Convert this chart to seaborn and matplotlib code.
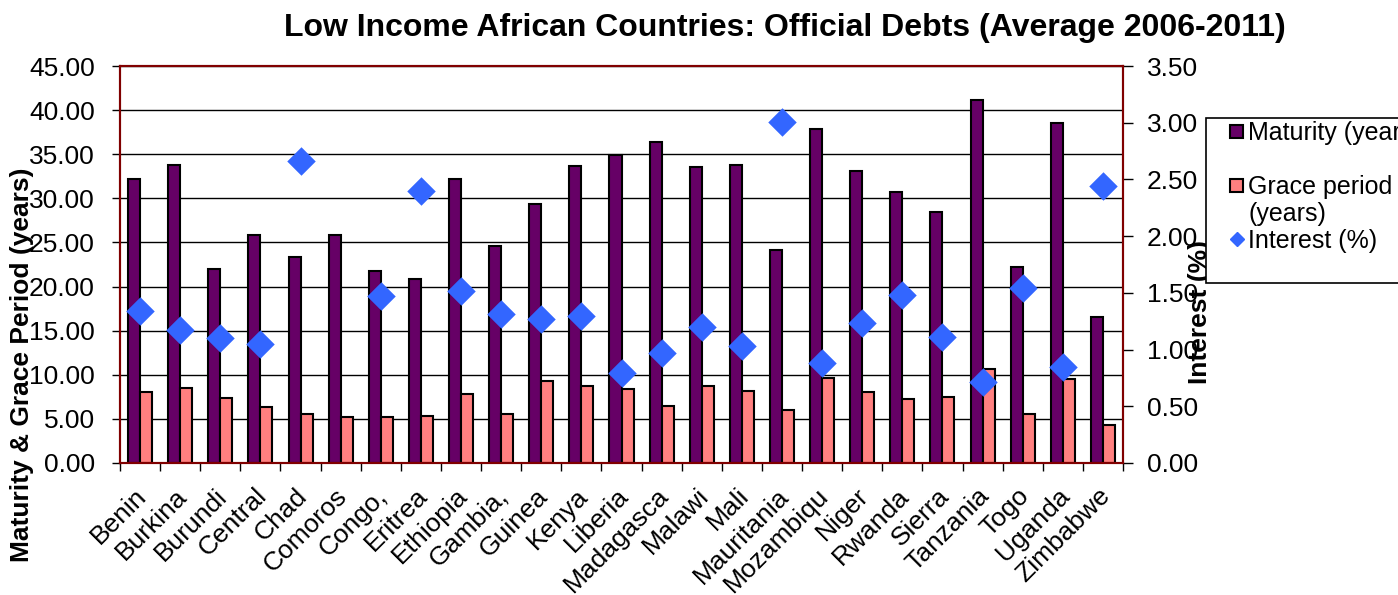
import numpy as np
import pandas as pd
import matplotlib
matplotlib.use("Agg")
import matplotlib.pyplot as plt
import matplotlib.patches as mpatches
import matplotlib.transforms as mtransforms
from matplotlib.lines import Line2D
from matplotlib.legend_handler import HandlerPatch
from matplotlib.ticker import FormatStrFormatter, MultipleLocator, FixedLocator
import seaborn as sns

# ---- data -------------------------------------------------------------
countries = ["Benin", "Burkina", "Burundi", "Central", "Chad", "Comoros", "Congo,",
             "Eritrea", "Ethiopia", "Gambia,", "Guinea", "Kenya", "Liberia",
             "Madagasca", "Malawi", "Mali", "Mauritania", "Mozambiqu", "Niger",
             "Rwanda", "Sierra", "Tanzania", "Togo", "Uganda", "Zimbabwe"]
maturity = [32.2, 33.8, 22.0, 25.8, 23.3, 25.8, 21.8, 20.8, 32.2, 24.6, 29.4, 33.7,
            34.9, 36.4, 33.6, 33.8, 24.2, 37.9, 33.1, 30.7, 28.5, 41.2, 22.2, 38.5, 16.5]
grace = [8.0, 8.55, 7.4, 6.3, 5.5, 5.2, 5.2, 5.33, 7.8, 5.5, 9.3, 8.7,
         8.4, 6.5, 8.7, 8.2, 6.0, 9.6, 8.0, 7.2, 7.5, 10.6, 5.5, 9.5, 4.35]
interest = [1.34, 1.17, 1.10, 1.05, 2.66, np.nan, 1.47, 2.40, 1.52, 1.31, 1.27, 1.30,
            0.79, 0.97, 1.20, 1.03, 3.01, 0.88, 1.23, 1.48, 1.11, 0.71, 1.54, 0.85, 2.44]

series_names = ["Maturity (years)", "Grace period (years)"]
title = "Low Income African Countries: Official Debts (Average 2006-2011)"

PURPLE = "#660066"
PINK = "#ff8080"
BLUE = "#3366ff"
FRAME = "#800000"

plt.rcParams["font.family"] = ["Liberation Sans", "DejaVu Sans"]

W, H = 1398, 595
fig = plt.figure(figsize=(W / 100, H / 100), dpi=100)
ax = fig.add_axes([120 / W, 1 - 463 / H, 1003 / W, 397 / H])

bars = pd.DataFrame({
    "Country": countries * 2,
    "Series": [series_names[0]] * len(countries) + [series_names[1]] * len(countries),
    "Value": maturity + grace,
})

sns.barplot(data=bars, x="Country", y="Value", hue="Series", order=countries,
            hue_order=series_names, palette=[PURPLE, PINK], saturation=1,
            width=0.6, gap=0, edgecolor="black", linewidth=1.5, ax=ax,
            legend=False, errorbar=None)

ax.set_ylim(0, 45)
ax.set_xlim(-0.5, len(countries) - 0.5)
ax.yaxis.set_major_locator(MultipleLocator(5))
ax.yaxis.set_major_formatter(FormatStrFormatter("%.2f"))
ax.set_axisbelow(True)
ax.grid(axis="y", color="black", linewidth=1.0)
ax.grid(axis="x", visible=False)
ax.set_xlabel("")
ax.set_ylabel("")

# interest rate on the secondary axis
ax2 = ax.twinx()
pts = pd.DataFrame({"Country": countries, "Interest": interest})
sns.stripplot(data=pts, x="Country", y="Interest", order=countries, jitter=False,
              marker="D", size=14.5, color=BLUE, linewidth=0, ax=ax2, zorder=4)
ax2.set_ylim(0, 3.5)
ax2.set_xlim(-0.5, len(countries) - 0.5)
ax2.yaxis.set_major_locator(MultipleLocator(0.5))
ax2.yaxis.set_major_formatter(FormatStrFormatter("%.2f"))
ax2.set_xlabel("")
ax2.set_ylabel("")

# category axis: labels at centres, ticks at boundaries
ax.set_xticks(range(len(countries)))
ax.set_xticklabels(countries, rotation=45, ha="right", va="top",
                   rotation_mode="anchor", fontsize=19)
ax.xaxis.set_minor_locator(FixedLocator(np.arange(-0.5, len(countries), 1.0)))
ax.tick_params(axis="x", which="major", length=0, pad=15)
ax.tick_params(axis="x", which="minor", length=6, width=1, color="black", direction="out")
ax.tick_params(axis="y", length=6, width=1, color="black", direction="out",
               labelsize=19, pad=12)
ax2.tick_params(axis="y", length=7, width=1, color="black", direction="out",
                labelsize=19, pad=10)

# nudge the slanted country names a little to the left
shift = mtransforms.ScaledTranslation(-4 / 72, 0, fig.dpi_scale_trans)
for lab in ax.get_xticklabels():
    lab.set_transform(lab.get_transform() + shift)

for a in (ax, ax2):
    for s in a.spines.values():
        s.set_color(FRAME)
        s.set_linewidth(1.5)

# titles
fig.text(785 / W, 1 - 28 / H, title, ha="center", va="center",
         fontsize=23, fontweight="bold")
fig.text(22 / W, 1 - 365 / H, "Maturity & Grace Period (years)", rotation=90,
         ha="center", va="center", fontsize=19, fontweight="bold")
fig.text(1200 / W, 1 - 312 / H, "Interest (%)", rotation=90,
         ha="center", va="center", fontsize=19, fontweight="bold")


# legend
def small_square(legend, orig_handle, xdescent, ydescent, width, height, fontsize):
    s = 0.5 * fontsize
    return mpatches.Rectangle((width / 2 - s / 2 - xdescent, height / 2 - s / 2 - ydescent), s, s)


handles = [
    mpatches.Patch(facecolor=PURPLE, edgecolor="black", linewidth=1.5),
    mpatches.Patch(alpha=0),
    mpatches.Patch(facecolor=PINK, edgecolor="black", linewidth=1.5),
    mpatches.Patch(alpha=0),
    Line2D([], [], marker="D", color=BLUE, linestyle="none", markersize=7.6),
    mpatches.Patch(alpha=0),
]
labels = ["Maturity (years)", " ", "Grace period", "(years)", "Interest (%)", " "]
leg = fig.legend(handles, labels, loc="upper left",
                 bbox_to_anchor=(1206 / W, 1 - 118 / H), bbox_transform=fig.transFigure,
                 borderaxespad=0, borderpad=0.12, fontsize=18, labelspacing=0.12,
                 handlelength=2.2, handletextpad=-0.62, handleheight=0.7,
                 fancybox=False, framealpha=1, edgecolor="black",
                 handler_map={mpatches.Patch: HandlerPatch(patch_func=small_square)})
leg.get_frame().set_linewidth(1.2)

fig.savefig("out.png", dpi=100)
